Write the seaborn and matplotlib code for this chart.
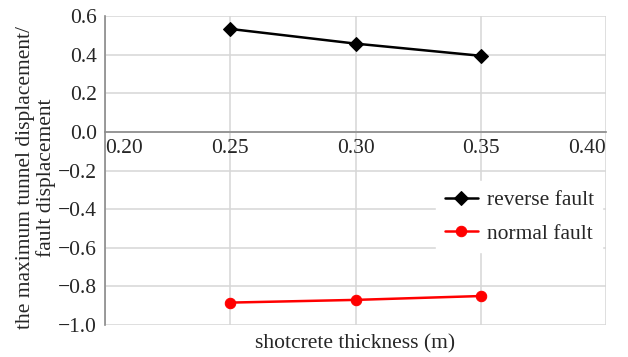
import matplotlib
matplotlib.use('Agg')
import matplotlib.pyplot as plt
import seaborn as sns
import pandas as pd

# data
thickness = [0.25, 0.30, 0.35]
reverse_fault = [0.533, 0.457, 0.394]
normal_fault = [-0.884, -0.870, -0.850]
x_ticks = [0.20, 0.25, 0.30, 0.35, 0.40]
y_ticks = [-1.0, -0.8, -0.6, -0.4, -0.2, 0.0, 0.2, 0.4, 0.6]

sns.set_style('white')
plt.rcParams['font.family'] = ['Liberation Serif', 'DejaVu Serif']

df = pd.DataFrame({
    'x': thickness * 2,
    'y': reverse_fault + normal_fault,
    'series': ['reverse fault'] * 3 + ['normal fault'] * 3,
})

FS = 15.5
fig = plt.figure(figsize=(6.28, 3.57), dpi=100)
ax = fig.add_axes([105 / 628, 1 - 325 / 357, 501 / 628, 309 / 357])

sns.lineplot(data=df[df.series == 'reverse fault'], x='x', y='y', ax=ax,
             color='black', marker='D', markersize=7, linewidth=1.8,
             markeredgecolor='black', label='reverse fault')
sns.lineplot(data=df[df.series == 'normal fault'], x='x', y='y', ax=ax,
             color='#ff0000', marker='o', markersize=7.5, linewidth=1.8,
             markeredgecolor='#ff0000', label='normal fault')

ax.set_xlim(0.20, 0.40)
ax.set_ylim(-1.0, 0.6)
ax.set_xticks(x_ticks)
ax.set_yticks(y_ticks)
ax.set_xticklabels([f'{v:.2f}' for v in x_ticks])
ax.set_yticklabels([f'{v:.1f}'.replace('-', '\u2212') for v in y_ticks])

ax.grid(True, color='#d6d6d6', linewidth=1.1)
ax.set_axisbelow(True)
for s in ['top', 'right']:
    ax.spines[s].set_visible(False)
ax.spines['bottom'].set_position(('data', 0))
for s in ['bottom', 'left']:
    ax.spines[s].set_color('#8a8a8a')
    ax.spines[s].set_linewidth(1.2)

ax.tick_params(axis='x', direction='in', length=4, color='#8a8a8a',
               labelsize=FS, pad=5)
ax.tick_params(axis='y', direction='out', length=4, color='#8a8a8a',
               labelsize=FS, pad=2)

ax.set_xlabel('shotcrete thickness (m)', fontsize=FS, va='center')
ax.xaxis.set_label_coords(0.5, -0.062)
ax.set_ylabel('the maximum tunnel displacement/\nfault displacement',
              fontsize=FS, linespacing=1.08, va='center')
ax.yaxis.set_label_coords(-0.138, 0.478)

leg = ax.legend(loc='center left', bbox_to_anchor=(0.661, 0.35),
                frameon=True, fontsize=FS, handlelength=1.55,
                handletextpad=0.4, borderaxespad=0, labelspacing=0.62,
                fancybox=False)
leg.get_frame().set_edgecolor('white')
leg.get_frame().set_facecolor('white')
leg.get_frame().set_alpha(1)

# first and last x labels sit inside the axis ends
fig.canvas.draw()
ticks = ax.xaxis.get_major_ticks()
ticks[0].label1.set_horizontalalignment('left')
ticks[-1].label1.set_horizontalalignment('right')

fig.savefig('out.png', dpi=100)
